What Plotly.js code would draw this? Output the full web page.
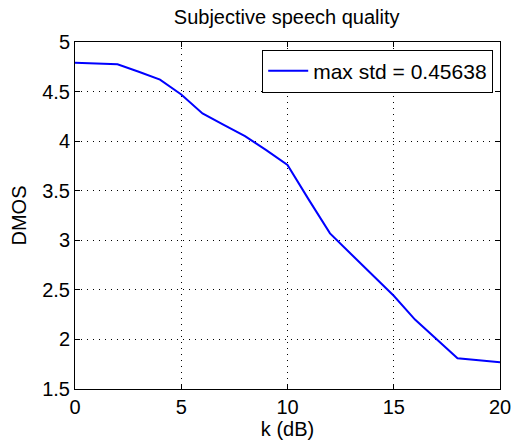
<!DOCTYPE html>
<html>
<head>
<meta charset="utf-8">
<script src="https://cdn.plot.ly/plotly-3.0.1.min.js"></script>
<style>html,body{margin:0;padding:0;background:#fff;}#chart{width:511px;height:443px;}</style>
</head>
<body>
<div id="chart"></div>
<script>
const kValues = [0,1,2,3,4,5,6,7,8,9,10,11,12,13,14,15,16,17,18,19,20];
const dmosValues = [4.79,4.785,4.775,4.70,4.62,4.47,4.28,4.165,4.05,3.91,3.76,3.41,3.07,2.86,2.65,2.44,2.20,2.00,1.81,1.79,1.77];
const seriesName = 'max std = 0.45638';
const chartTitle = 'Subjective speech quality';
const xTitle = 'k (dB)';
const yTitle = 'DMOS';
const xTicks = [0,5,10,15,20];
const yTicks = [1.5,2,2.5,3,3.5,4,4.5,5];

const font = 'Arial, "Liberation Sans", Helvetica, sans-serif';
const axisCommon = {
  showline: true, mirror: 'ticks', linecolor: '#000', linewidth: 1,
  ticks: 'inside', ticklen: 5, tickcolor: '#000',
  showgrid: true, gridcolor: '#000', griddash: '1px,5px', gridwidth: 1,
  zeroline: false, tickfont: {family: font, size: 20, color: '#000'},
  ticklabeloverflow: 'allow', automargin: false
};
Plotly.newPlot('chart', [{
  x: kValues, y: dmosValues, type: 'scatter', mode: 'lines', name: seriesName,
  line: {color: '#0000ff', width: 2}
}], {
  width: 511, height: 443,
  margin: {l: 75, r: 11, t: 42, b: 54},
  paper_bgcolor: '#fff', plot_bgcolor: '#fff',
  title: {text: chartTitle, font: {family: font, size: 20, color: '#000'}, x: 0.561, xanchor: 'center', y: 0.962, yanchor: 'middle'},
  showlegend: true,
  legend: {x: 0.984, xanchor: 'right', y: 0.978, yanchor: 'top', bgcolor: '#fff', bordercolor: '#000', borderwidth: 1,
    font: {family: font, size: 21, color: '#000'}, itemwidth: 40},
  xaxis: Object.assign({}, axisCommon, {range: [0, 20], tickvals: xTicks, ticktext: xTicks.map(String),
    title: {text: xTitle, font: {family: font, size: 20, color: '#000'}, standoff: 4}}),
  yaxis: Object.assign({}, axisCommon, {range: [1.5, 5], tickvals: yTicks, ticktext: yTicks.map(String),
    title: {text: yTitle, font: {family: font, size: 20, color: '#000'}, standoff: 10}})
}, {displayModeBar: false, staticPlot: true});
</script>
</body>
</html>
